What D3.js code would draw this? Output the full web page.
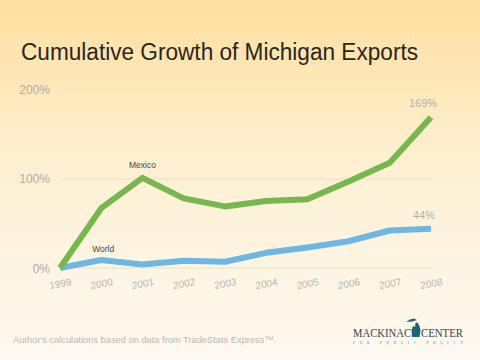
<!DOCTYPE html>
<html><head><meta charset="utf-8">
<script src="https://cdn.jsdelivr.net/npm/d3@7"></script>
<style>html,body{margin:0;padding:0;}svg{display:block;}</style>
</head><body>
<script>
const years = ["1999","2000","2001","2002","2003","2004","2005","2006","2007","2008"];
const mexico = [0, 67, 101, 78, 69, 75, 77, 97, 118, 169];
const world = [0, 9, 4, 8, 7, 17, 23, 30, 42, 44];
const yTicks = [0, 100, 200];
const seriesNames = ["Mexico", "World"];

const W = 480, H = 360;
const svg = d3.select("body").append("svg").attr("width", W).attr("height", H);
const defs = svg.append("defs");
const grad = defs.append("linearGradient").attr("id","bg").attr("x1",0).attr("y1",0).attr("x2",0).attr("y2",1);
grad.append("stop").attr("offset","0%").attr("stop-color","#fedf9f");
grad.append("stop").attr("offset","45%").attr("stop-color","#fdf0d2");
grad.append("stop").attr("offset","100%").attr("stop-color","#fdf9f2");
svg.append("rect").attr("width",W).attr("height",H).attr("fill","url(#bg)");

svg.append("text").attr("x",21).attr("y",60).text("Cumulative Growth of Michigan Exports")
  .attr("font-family","Liberation Sans, Arial, sans-serif").attr("font-size",23.5)
  .attr("textLength",397).attr("lengthAdjust","spacingAndGlyphs").attr("fill","#2a2520");

const x = d3.scalePoint().domain(years).range([60, 431]);
const y = d3.scaleLinear().domain([0, 200]).range([268, 89.5]);

svg.append("g").selectAll("line").data(yTicks).join("line")
  .attr("x1",60).attr("x2",432).attr("y1",d=>y(d)).attr("y2",d=>y(d))
  .attr("stroke","#f1dfbf").attr("stroke-width",1);

const lf = "Liberation Sans, Arial, sans-serif";
svg.append("g").selectAll("text").data(yTicks).join("text")
  .attr("x",50).attr("y",d=>y(d)+4.5).attr("text-anchor","end")
  .attr("font-family",lf).attr("font-size",12)
  .attr("fill","#b3aba0").text(d=>d+"%");

svg.append("g").selectAll("text").data(years).join("text")
  .attr("transform",d=>`translate(${x(d)+1},${287}) rotate(-10)`)
  .attr("text-anchor","middle")
  .attr("font-family",lf).attr("font-size",10)
  .attr("fill","#bcb4a8").text(d=>d);

const line = d3.line().x((d,i)=>x(years[i])).y(d=>y(d));
svg.append("path").datum(world).attr("d",line).attr("fill","none")
  .attr("stroke","#6fb6e2").attr("stroke-width",6).attr("stroke-linejoin","round");
svg.append("path").datum(mexico).attr("d",line).attr("fill","none")
  .attr("stroke","#77b84e").attr("stroke-width",6).attr("stroke-linejoin","round");

svg.append("text").attr("x",x("2001")).attr("y",y(mexico[2])-10).attr("text-anchor","middle")
  .attr("font-family",lf).attr("font-size",8.5).attr("fill","#4a4540").text(seriesNames[0]);
svg.append("text").attr("x",x("2000")+2).attr("y",y(world[1])-8).attr("text-anchor","middle")
  .attr("font-family",lf).attr("font-size",8.5).attr("fill","#4a4540").text(seriesNames[1]);
svg.append("text").attr("x",x("2008")-8).attr("y",y(mexico[9])-10).attr("text-anchor","middle")
  .attr("font-family",lf).attr("font-size",11).attr("fill","#b8b0a4").text(mexico[9]+"%");
svg.append("text").attr("x",x("2008")-7).attr("y",y(world[9])-10).attr("text-anchor","middle")
  .attr("font-family",lf).attr("font-size",11).attr("fill","#b8b0a4").text(world[9]+"%");

svg.append("text").attr("x",13).attr("y",343).attr("font-family",lf).attr("font-size",9.3)
  .attr("fill","#bdb7ae").text("Author's calculations based on data from TradeStats Express\u2122.");

const logo = svg.append("g");
logo.append("text").attr("x",353).attr("y",337).attr("font-family","Liberation Serif, Times New Roman, serif")
  .attr("font-size",11.5).attr("textLength",58).attr("lengthAdjust","spacingAndGlyphs")
  .attr("fill","#2f4650").text("MACKINAC");
logo.append("text").attr("x",421).attr("y",337).attr("font-family","Liberation Serif, Times New Roman, serif")
  .attr("font-size",11.5).attr("textLength",42).attr("lengthAdjust","spacingAndGlyphs")
  .attr("fill","#2f4650").text("CENTER");
logo.append("path").attr("d","M412,337 L411.5,330 L413,326 L415,327 L415.5,323 L417.5,322.5 L419.5,326 L420.5,330 L419.5,337 Z M406,322 L410,319.5 L414,318.5 L417,320 L412,321.5 Z")
  .attr("fill","#1d6575");
logo.append("text").attr("x",353).attr("y",343.5).attr("font-family","Liberation Serif, serif")
  .attr("font-size",3.6).attr("textLength",110).attr("lengthAdjust","spacing").attr("fill","#6c7a80").text("FOR PUBLIC POLICY");
</script>
</body></html>
